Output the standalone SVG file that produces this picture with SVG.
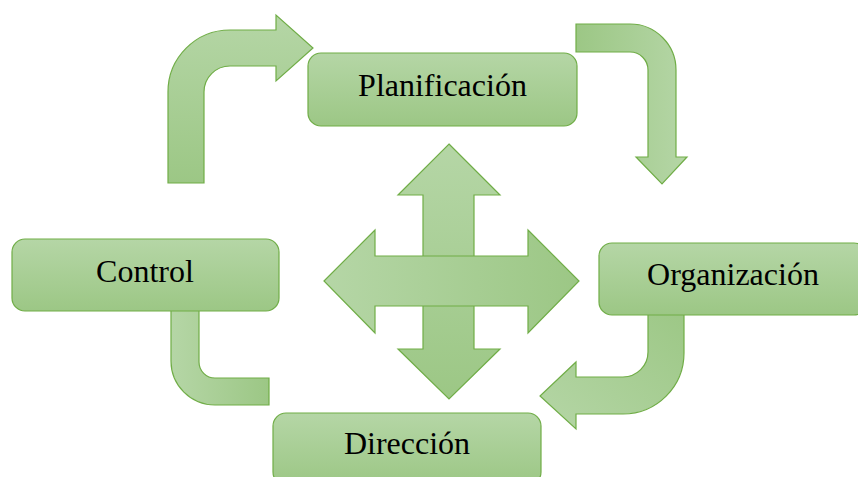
<svg xmlns="http://www.w3.org/2000/svg" width="858" height="477" viewBox="0 0 858 477">
<defs>
<linearGradient id="gV" x1="0" y1="0" x2="0" y2="1"><stop offset="0" stop-color="#b5d6a6"/><stop offset="1" stop-color="#9cc785"/></linearGradient>
<linearGradient id="gH" x1="0" y1="0" x2="1" y2="0"><stop offset="0" stop-color="#b5d6a6"/><stop offset="1" stop-color="#9cc785"/></linearGradient>
<linearGradient id="gHr" x1="0" y1="0" x2="1" y2="0"><stop offset="0" stop-color="#9cc785"/><stop offset="1" stop-color="#b5d6a6"/></linearGradient>
<linearGradient id="gD" x1="1" y1="0" x2="0" y2="1"><stop offset="0" stop-color="#9cc785"/><stop offset="1" stop-color="#b5d6a6"/></linearGradient>
</defs>
<style>
.sh{stroke:#70ad47;stroke-width:1.2;stroke-linejoin:miter}
.box{fill:url(#gV);stroke:#70ad47;stroke-width:1.2}
.lbl{font-family:"Liberation Serif","Times New Roman",serif;font-size:32px;fill:#000;text-anchor:middle}
</style>
<rect width="858" height="477" fill="#ffffff"/>
<g id="connectors">
<path class="sh" fill="url(#gV)" d="M168,183 L168,92 A62,62 0 0 1 230,30 L276,30 L276,15 L313,48 L276,81 L276,66 L230,66 A26,26 0 0 0 204,92 L204,183 Z"/>
<path class="sh" fill="url(#gHr)" d="M576,24 L630,24 A46,46 0 0 1 676,70 L676,157 L687,157 L662,184 L636,157 L648,157 L648,70 A18,18 0 0 0 630,52 L576,52 Z"/>
<path class="sh" fill="url(#gH)" d="M171,300 L171,361 A44,44 0 0 0 215,405 L269,405 L269,378 L215,378 A16,16 0 0 1 199,362 L199,300 Z"/>
<path class="sh" fill="url(#gD)" d="M648,305 L648,352 A25,25 0 0 1 623,377 L576,377 L576,362 L540,396 L576,429 L576,414 L623,414 A61,61 0 0 0 684,353 L684,305 Z"/>
<g id="cross">
<polygon class="sh" fill="url(#gV)" points="449,144 500,195 474,195 474,349 500,349 449,399 398,349 423,349 423,195 398,195"/>
<polygon class="sh" fill="url(#gH)" points="324,281 375,230 375,256 528,256 528,230 579,281 528,333 528,306 375,306 375,333"/>
</g>
</g>
<g id="planificacion">
<rect class="box" x="308" y="53" width="269" height="73" rx="13"/>
<text class="lbl" x="442.5" y="96">Planificación</text>
</g>
<g id="control">
<rect class="box" x="12" y="239" width="267" height="72" rx="13"/>
<text class="lbl" x="145" y="282">Control</text>
</g>
<g id="organizacion">
<rect class="box" x="599" y="243" width="268" height="72" rx="13"/>
<text class="lbl" x="733" y="285">Organización</text>
</g>
<g id="direccion">
<rect class="box" x="273" y="413" width="268" height="72" rx="13"/>
<text class="lbl" x="407" y="454">Dirección</text>
</g>
</svg>
